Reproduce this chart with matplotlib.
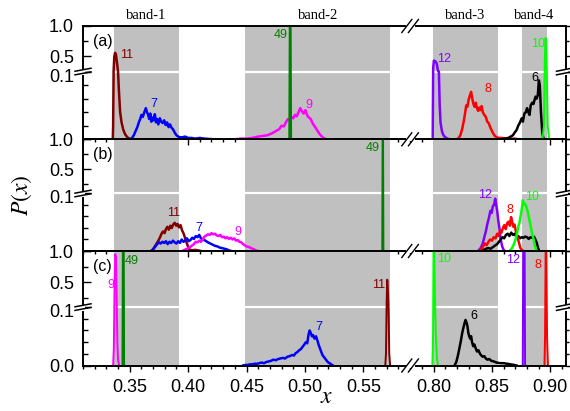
import numpy as np
import matplotlib
matplotlib.use('Agg')
import matplotlib.pyplot as plt
from matplotlib.lines import Line2D
from matplotlib.transforms import ScaledTranslation

plt.rcParams['font.family'] = ['Liberation Sans', 'DejaVu Sans']
plt.rcParams['mathtext.fontset'] = 'stix'

W, H = 570, 411

# broken x axis: left part, gap, right part
X_LO, X_GAP0, X_GAP1, X_HI = 0.31, 0.59, 0.78, 0.913

band_lo = [0.3365, 0.449, 0.7995, 0.876]
band_hi = [0.392, 0.573, 0.855, 0.897]
band_names = ['band-1', 'band-2', 'band-3', 'band-4']

colors = {'11': '#800000', '7': '#0000ff', '9': '#ff00ff', '49': '#008000',
          '12': '#8000ff', '8': '#ff0000', '6': '#000000', '10': '#00ff00'}

# ---------------- panel (a) ----------------
a11_x = [0.3355, 0.3358, 0.3362, 0.3368, 0.3375, 0.3383, 0.3392, 0.3400, 0.3408, 0.3418,
         0.3430, 0.3445, 0.3462, 0.3480, 0.3505]
a11_y = [0.0, 0.02, 0.20, 0.50, 0.56, 0.52, 0.38, 0.15, 0.07, 0.04,
         0.025, 0.014, 0.007, 0.003, 0.0]
a7_x = [0.3505, 0.3520, 0.3535, 0.3550, 0.3565, 0.3580, 0.3590, 0.3600, 0.3612, 0.3625,
        0.3638, 0.3648, 0.3658, 0.3667, 0.3676, 0.3685, 0.3695, 0.3705, 0.3715, 0.3725,
        0.3735, 0.3745, 0.3758, 0.3770, 0.3782, 0.3795, 0.3808, 0.3820, 0.3833, 0.3845,
        0.3858, 0.3870, 0.3885, 0.3900, 0.3915, 0.3930, 0.3950, 0.3975, 0.4000, 0.4030,
        0.4060, 0.4100, 0.4140, 0.4180, 0.4230]
a7_y = [0.0, 0.002, 0.006, 0.012, 0.018, 0.026, 0.030, 0.036, 0.033, 0.040,
        0.046, 0.040, 0.036, 0.030, 0.038, 0.026, 0.032, 0.028, 0.037, 0.025,
        0.030, 0.022, 0.031, 0.026, 0.024, 0.028, 0.021, 0.025, 0.018, 0.022,
        0.017, 0.015, 0.010, 0.006, 0.004, 0.003, 0.003, 0.004, 0.002, 0.002,
        0.001, 0.002, 0.001, 0.0005, 0.0]
a9_x = [0.4400, 0.4450, 0.4500, 0.4550, 0.4600, 0.4640, 0.4680, 0.4720, 0.4750, 0.4780,
        0.4800, 0.4820, 0.4840, 0.4855, 0.4870, 0.4885, 0.4900, 0.4915, 0.4930, 0.4945,
        0.4960, 0.4975, 0.4990, 0.5005, 0.5020, 0.5035, 0.5050, 0.5065, 0.5080, 0.5095,
        0.5110, 0.5125, 0.5140, 0.5160, 0.5180]
a9_y = [0.0, 0.001, 0.001, 0.002, 0.004, 0.005, 0.006, 0.009, 0.012, 0.015,
        0.020, 0.019, 0.026, 0.030, 0.028, 0.033, 0.031, 0.036, 0.034, 0.040,
        0.046, 0.041, 0.038, 0.043, 0.035, 0.032, 0.030, 0.024, 0.020, 0.016,
        0.012, 0.008, 0.005, 0.002, 0.0]
a49_x = [0.4866, 0.4870, 0.4878, 0.4882]
a49_y = [0.0, 1.0, 1.0, 0.0]
a12_x = [0.7993, 0.7997, 0.8003, 0.8015, 0.8028, 0.8038, 0.8046, 0.8053, 0.8060, 0.8072,
         0.8085, 0.8100, 0.8120, 0.8140]
a12_y = [0.0, 0.30, 0.43, 0.42, 0.38, 0.26, 0.10, 0.05, 0.025, 0.012,
         0.006, 0.003, 0.001, 0.0]
a8_x = [0.8200, 0.8215, 0.8230, 0.8245, 0.8258, 0.8270, 0.8280, 0.8290, 0.8300, 0.8310,
        0.8322, 0.8332, 0.8342, 0.8352, 0.8362, 0.8372, 0.8382, 0.8392, 0.8402, 0.8412,
        0.8422, 0.8435, 0.8448, 0.8460, 0.8472, 0.8485, 0.8498, 0.8510, 0.8525, 0.8540,
        0.8560, 0.8590, 0.8620, 0.8660, 0.8700, 0.8720]
a8_y = [0.0, 0.002, 0.006, 0.015, 0.026, 0.038, 0.050, 0.048, 0.058, 0.064,
        0.070, 0.060, 0.052, 0.048, 0.054, 0.046, 0.042, 0.047, 0.043, 0.049,
        0.040, 0.036, 0.033, 0.026, 0.024, 0.018, 0.013, 0.009, 0.005, 0.003,
        0.002, 0.002, 0.001, 0.001, 0.001, 0.0]
a6_x = [0.8580, 0.8610, 0.8640, 0.8660, 0.8680, 0.8695, 0.8712, 0.8725, 0.8738, 0.8755,
        0.8765, 0.8778, 0.8790, 0.8801, 0.8812, 0.8822, 0.8832, 0.8845, 0.8855, 0.8865,
        0.8874, 0.8883, 0.8893, 0.8902, 0.8910, 0.8920, 0.8931, 0.8940, 0.8950]
a6_y = [0.0, 0.001, 0.002, 0.004, 0.006, 0.010, 0.014, 0.020, 0.024, 0.031,
        0.026, 0.038, 0.040, 0.046, 0.040, 0.036, 0.050, 0.054, 0.052, 0.058,
        0.063, 0.060, 0.065, 0.087, 0.080, 0.040, 0.010, 0.002, 0.0]
a10_x = [0.8915, 0.8935, 0.8945, 0.8952, 0.8958, 0.8964, 0.8970, 0.8978, 0.8990]
a10_y = [0.0, 0.003, 0.02, 0.35, 0.80, 0.78, 0.25, 0.02, 0.0]

# ---------------- panel (b) ----------------
b49_x = [0.5662, 0.5665, 0.5669, 0.5672]
b49_y = [0.0, 1.0, 1.0, 0.0]
b11_x = [0.3680, 0.3700, 0.3715, 0.3730, 0.3745, 0.3760, 0.3772, 0.3785, 0.3798, 0.3810,
         0.3822, 0.3835, 0.3848, 0.3860, 0.3872, 0.3885, 0.3898, 0.3910, 0.3922, 0.3935,
         0.3948, 0.3962, 0.3978, 0.3995, 0.4010, 0.4030, 0.4060, 0.4090, 0.4110]
b11_y = [0.0, 0.003, 0.008, 0.013, 0.018, 0.024, 0.030, 0.034, 0.031, 0.038,
         0.042, 0.037, 0.044, 0.040, 0.046, 0.049, 0.044, 0.047, 0.041, 0.045,
         0.036, 0.030, 0.020, 0.010, 0.003, 0.001, 0.002, 0.001, 0.0]
b7_x = [0.3690, 0.3705, 0.3720, 0.3735, 0.3750, 0.3765, 0.3780, 0.3795, 0.3810, 0.3825,
        0.3840, 0.3855, 0.3870, 0.3885, 0.3900, 0.3915, 0.3930, 0.3945, 0.3960, 0.3975,
        0.3990, 0.4005, 0.4020, 0.4035, 0.4050, 0.4065, 0.4080, 0.4095, 0.4110, 0.4125,
        0.4140, 0.4155, 0.4170, 0.4190, 0.4210, 0.4230, 0.4250, 0.4270, 0.4290, 0.4310,
        0.4330, 0.4350, 0.4370]
b7_y = [0.0, 0.004, 0.008, 0.012, 0.015, 0.013, 0.016, 0.014, 0.017, 0.012,
        0.016, 0.014, 0.018, 0.015, 0.013, 0.017, 0.014, 0.020, 0.016, 0.018,
        0.022, 0.017, 0.019, 0.023, 0.021, 0.026, 0.024, 0.028, 0.022, 0.020,
        0.019, 0.017, 0.015, 0.013, 0.011, 0.009, 0.008, 0.006, 0.005, 0.004,
        0.003, 0.001, 0.0]
b9_x = [0.3950, 0.3970, 0.3990, 0.4010, 0.4030, 0.4050, 0.4065, 0.4080, 0.4095, 0.4110,
        0.4125, 0.4140, 0.4155, 0.4170, 0.4185, 0.4200, 0.4215, 0.4230, 0.4245, 0.4260,
        0.4275, 0.4290, 0.4305, 0.4320, 0.4335, 0.4350, 0.4365, 0.4380, 0.4395, 0.4410,
        0.4425, 0.4440, 0.4455, 0.4470, 0.4485, 0.4500, 0.4520, 0.4540, 0.4560, 0.4580,
        0.4600]
b9_y = [0.0, 0.002, 0.004, 0.006, 0.009, 0.012, 0.016, 0.015, 0.018, 0.016,
        0.020, 0.025, 0.027, 0.029, 0.028, 0.031, 0.029, 0.030, 0.027, 0.026,
        0.028, 0.024, 0.025, 0.022, 0.024, 0.021, 0.023, 0.020, 0.022, 0.018,
        0.019, 0.016, 0.015, 0.012, 0.010, 0.008, 0.007, 0.005, 0.003, 0.001,
        0.0]
b12_x = [0.8380, 0.8400, 0.8420, 0.8435, 0.8450, 0.8462, 0.8475, 0.8487, 0.8498, 0.8508,
         0.8518, 0.8528, 0.8535, 0.8545, 0.8555, 0.8565, 0.8575, 0.8588, 0.8600, 0.8610]
b12_y = [0.0, 0.004, 0.012, 0.024, 0.036, 0.048, 0.058, 0.070, 0.066, 0.078,
         0.080, 0.091, 0.082, 0.070, 0.052, 0.038, 0.020, 0.008, 0.002, 0.0]
b8_x = [0.8395, 0.8410, 0.8425, 0.8440, 0.8455, 0.8470, 0.8485, 0.8500, 0.8515, 0.8530,
        0.8545, 0.8558, 0.8570, 0.8582, 0.8594, 0.8606, 0.8618, 0.8630, 0.8642, 0.8654,
        0.8664, 0.8674, 0.8684, 0.8694, 0.8705, 0.8718, 0.8730, 0.8742, 0.8755, 0.8770]
b8_y = [0.0, 0.004, 0.008, 0.013, 0.010, 0.016, 0.020, 0.018, 0.024, 0.022,
        0.030, 0.026, 0.036, 0.032, 0.040, 0.045, 0.038, 0.048, 0.051, 0.044,
        0.059, 0.050, 0.042, 0.046, 0.034, 0.024, 0.016, 0.006, 0.002, 0.0]
b6_x = [0.8410, 0.8430, 0.8450, 0.8470, 0.8490, 0.8510, 0.8530, 0.8545, 0.8560, 0.8575,
        0.8590, 0.8605, 0.8620, 0.8635, 0.8650, 0.8665, 0.8680, 0.8695, 0.8710, 0.8725,
        0.8740, 0.8755, 0.8770, 0.8785, 0.8800, 0.8815, 0.8830, 0.8845, 0.8860, 0.8872,
        0.8884, 0.8895, 0.8905]
b6_y = [0.0, 0.002, 0.004, 0.005, 0.004, 0.007, 0.010, 0.012, 0.016, 0.020,
        0.024, 0.022, 0.028, 0.030, 0.026, 0.032, 0.028, 0.030, 0.024, 0.026,
        0.022, 0.024, 0.023, 0.025, 0.024, 0.021, 0.024, 0.023, 0.025, 0.020,
        0.014, 0.005, 0.0]
b10_x = [0.8650, 0.8665, 0.8680, 0.8695, 0.8705, 0.8715, 0.8725, 0.8735, 0.8745, 0.8755,
         0.8765, 0.8775, 0.8785, 0.8795, 0.8805, 0.8815, 0.8825, 0.8835, 0.8845, 0.8855,
         0.8865, 0.8875, 0.8885]
b10_y = [0.0, 0.003, 0.008, 0.016, 0.022, 0.030, 0.042, 0.048, 0.060, 0.072,
         0.088, 0.080, 0.082, 0.077, 0.070, 0.060, 0.050, 0.040, 0.030, 0.022,
         0.012, 0.004, 0.0]

# ---------------- panel (c) ----------------
c9_x = [0.3358, 0.3364, 0.3370, 0.3376, 0.3382, 0.3388, 0.3394, 0.3400, 0.3410]
c9_y = [0.0, 0.03, 0.40, 0.95, 0.90, 0.30, 0.04, 0.01, 0.0]
c49_x = [0.3438, 0.3441, 0.3449, 0.3452]
c49_y = [0.0, 1.0, 1.0, 0.0]
c7_x = [0.4470, 0.4490, 0.4510, 0.4530, 0.4550, 0.4570, 0.4590, 0.4610, 0.4630, 0.4650,
        0.4670, 0.4690, 0.4710, 0.4730, 0.4750, 0.4770, 0.4790, 0.4810, 0.4830, 0.4850,
        0.4870, 0.4890, 0.4905, 0.4920, 0.4935, 0.4950, 0.4965, 0.4980, 0.4995, 0.5008,
        0.5020, 0.5030, 0.5040, 0.5050, 0.5060, 0.5070, 0.5082, 0.5095, 0.5108, 0.5120,
        0.5135, 0.5150, 0.5165, 0.5180, 0.5195, 0.5210, 0.5225, 0.5240]
c7_y = [0.0, 0.001, 0.001, 0.002, 0.002, 0.003, 0.003, 0.004, 0.005, 0.004,
        0.006, 0.007, 0.008, 0.010, 0.009, 0.011, 0.012, 0.013, 0.012, 0.015,
        0.016, 0.018, 0.017, 0.021, 0.023, 0.026, 0.028, 0.032, 0.036, 0.040,
        0.038, 0.052, 0.060, 0.056, 0.050, 0.052, 0.046, 0.050, 0.042, 0.034,
        0.026, 0.018, 0.014, 0.010, 0.006, 0.004, 0.002, 0.0]
c11_x = [0.5688, 0.5694, 0.5700, 0.5705, 0.5710, 0.5716, 0.5722, 0.5730]
c11_y = [0.0, 0.02, 0.20, 0.54, 0.40, 0.10, 0.02, 0.0]
c10_x = [0.7990, 0.7996, 0.8000, 0.8006, 0.8012, 0.8020, 0.8030, 0.8040]
c10_y = [0.0, 0.05, 1.0, 1.0, 0.30, 0.05, 0.01, 0.0]
c6_x = [0.8180, 0.8195, 0.8210, 0.8222, 0.8234, 0.8245, 0.8255, 0.8265, 0.8274, 0.8282,
        0.8290, 0.8298, 0.8306, 0.8314, 0.8322, 0.8330, 0.8340, 0.8350, 0.8360, 0.8372,
        0.8385, 0.8398, 0.8410, 0.8422, 0.8435, 0.8448, 0.8462, 0.8478, 0.8495, 0.8515,
        0.8540, 0.8570, 0.8600, 0.8630, 0.8660, 0.8690, 0.8710]
c6_y = [0.0, 0.006, 0.018, 0.030, 0.042, 0.055, 0.064, 0.072, 0.078, 0.074,
        0.068, 0.056, 0.050, 0.046, 0.050, 0.040, 0.033, 0.036, 0.030, 0.024,
        0.026, 0.020, 0.017, 0.015, 0.016, 0.012, 0.010, 0.011, 0.008, 0.007,
        0.005, 0.004, 0.004, 0.003, 0.002, 0.001, 0.0]
c12_x = [0.8764, 0.8768, 0.8780, 0.8784]
c12_y = [0.0, 1.0, 1.0, 0.0]
c8_x = [0.8950, 0.8955, 0.8960, 0.8966, 0.8972, 0.8980]
c8_y = [0.0, 0.05, 1.0, 1.0, 0.05, 0.0]

# label name -> (x, y) of the coloured number next to each curve
a_labels = {'11': (0.3473, 0.53), '7': (0.3707, 0.052), '49': (0.4792, 0.85), '9': (0.5034, 0.050),
            '12': (0.8091, 0.45), '8': (0.8465, 0.074), '6': (0.8866, 0.090), '10': (0.8891, 0.70)}
b_labels = {'49': (0.5581, 0.86), '11': (0.3872, 0.066), '7': (0.4094, 0.040), '9': (0.4422, 0.033),
            '12': (0.8442, 0.097), '8': (0.8656, 0.071), '10': (0.8846, 0.094)}
c_labels = {'49': (0.3516, 0.84), '9': (0.3337, 0.46), '7': (0.5120, 0.066), '11': (0.5630, 0.45),
            '10': (0.8094, 0.87), '6': (0.8343, 0.084), '12': (0.8684, 0.85), '8': (0.8897, 0.78)}

rows = [
    dict(tag='(a)', hi_bot=0.25, frac=0.598, labels=a_labels,
         curves=[('11', a11_x, a11_y), ('7', a7_x, a7_y), ('9', a9_x, a9_y), ('49', a49_x, a49_y),
                 ('12', a12_x, a12_y), ('8', a8_x, a8_y), ('6', a6_x, a6_y), ('10', a10_x, a10_y)]),
    dict(tag='(b)', hi_bot=0.1, frac=0.515, labels=b_labels,
         curves=[('11', b11_x, b11_y), ('7', b7_x, b7_y), ('9', b9_x, b9_y), ('49', b49_x, b49_y),
                 ('12', b12_x, b12_y), ('6', b6_x, b6_y), ('8', b8_x, b8_y), ('10', b10_x, b10_y)]),
    dict(tag='(c)', hi_bot=0.1, frac=0.51, labels=c_labels,
         curves=[('9', c9_x, c9_y), ('49', c49_x, c49_y), ('7', c7_x, c7_y), ('11', c11_x, c11_y),
                 ('10', c10_x, c10_y), ('6', c6_x, c6_y), ('12', c12_x, c12_y), ('8', c8_x, c8_y)]),
]


def yscale_funcs(hi_bot, frac):
    if hi_bot > 0.1:
        xp = [-10, 0, 0.1, hi_bot, 1.0, 10]
        fp = [-100 * frac, 0, frac, frac + 1e-4, 1, 1 + 9 * (1 - frac) / (1 - hi_bot)]
    else:
        xp = [-10, 0, 0.1, 1.0, 10]
        fp = [-100 * frac, 0, frac, 1, 1 + 9 * (1 - frac) / 0.9]
    return (lambda v: np.interp(v, xp, fp)), (lambda u: np.interp(u, fp, xp))


x_xp = [-10, X_GAP0, X_GAP1, 10]
x_fp = [-10, X_GAP0, X_GAP0 + 1e-4, 10 - (X_GAP1 - X_GAP0) + 1e-4]
xfwd = lambda v: np.interp(v, x_xp, x_fp)
xinv = lambda u: np.interp(u, x_fp, x_xp)

x_major = [0.35, 0.40, 0.45, 0.50, 0.55, 0.80, 0.85, 0.90]
x_minor = [round(v, 2) for v in np.arange(0.31, 0.915, 0.01)
           if (v < X_GAP0 or v > X_GAP1) and round(v, 2) not in x_major]
y_major = [0.0, 0.1, 0.5, 1.0]
y_minor = [0.02, 0.04, 0.06, 0.08, 0.25, 0.75]

fig = plt.figure(figsize=(W / 100, H / 100), dpi=100)

L_PX, R_PX = 83, 565.5
row_edges = [26, 139.3, 251, 365.5]


def fig_seg(x0, y0, x1, y1, **kw):
    fig.add_artist(Line2D([x0 / W, x1 / W], [1 - y0 / H, 1 - y1 / H],
                          transform=fig.transFigure, zorder=20, **kw))


for i, r in enumerate(rows):
    top, bot = row_edges[i], row_edges[i + 1]
    ax = fig.add_axes([L_PX / W, 1 - bot / H, (R_PX - L_PX) / W, (bot - top) / H])
    ax.set_facecolor('none')
    ax.set_xscale('function', functions=(xfwd, xinv))
    yf, yi = yscale_funcs(r['hi_bot'], r['frac'])
    ax.set_yscale('function', functions=(yf, yi))
    ax.set_xlim(X_LO, X_HI)
    ax.set_ylim(0, 1.0)

    for lo, hi in zip(band_lo, band_hi):
        ax.axvspan(lo, hi, color='#c0c0c0', lw=0, zorder=0)
    ax.axhline(0.1, color='white', lw=1.6, zorder=1)

    for name, xs, ys in r['curves']:
        spike = len(xs) < 10
        ax.plot(xs, ys, color=colors[name], lw=1.4 if spike else 1.8, zorder=3)
    for name, (lx, ly) in r['labels'].items():
        ax.text(lx, ly, name, color=colors[name], fontsize=9, ha='center', va='center', zorder=4)
    ax.text(0.041, 0.865, r['tag'], transform=ax.transAxes, fontsize=11.5, ha='center', va='center')

    for s in ax.spines.values():
        s.set_linewidth(1.2)
    ax.set_xticks(x_major)
    ax.set_xticks(x_minor, minor=True)
    ax.set_xticklabels([f'{v:.2f}' for v in x_major] if i == 2 else [])
    ax.tick_params(axis='x', which='both', direction='out', top=False, bottom=True,
                   labelsize=13, pad=5.5, width=1.0)
    ax.tick_params(axis='x', which='major', length=4)
    ax.tick_params(axis='x', which='minor', length=2.5)

    ax.set_yticks(y_major)
    ax.set_yticks(y_minor, minor=True)
    ax.set_yticklabels(['0.0' if i == 2 else '', '0.1', '0.5', '1.0'])
    ax.tick_params(axis='y', which='both', direction='in', left=True, right=False,
                   labelsize=13, pad=6.5, width=1.0)
    ax.tick_params(axis='y', which='major', length=6)
    ax.tick_params(axis='y', which='minor', length=3.5)
    # the "0.1" label sits a little below the break, as in the original
    lab = ax.yaxis.get_major_ticks()[1].label1
    lab.set_transform(lab.get_transform() + ScaledTranslation(0, -0.035, fig.dpi_scale_trans))

    tw = ax.twinx()
    tw.set_yscale('function', functions=(yf, yi))
    tw.set_ylim(0, 1.0)
    tw.set_yticks(y_major)
    tw.set_yticks(y_minor, minor=True)
    tw.tick_params(axis='y', which='both', direction='out', right=True, labelright=False, width=1.0)
    tw.tick_params(axis='y', which='major', length=4)
    tw.tick_params(axis='y', which='minor', length=2.5)
    for s in tw.spines.values():
        s.set_linewidth(1.2)

    # "=" break marks on the y axis (left and right)
    yb = top + (1 - r['frac']) * (bot - top)
    for xc, x0, x1 in ((L_PX, L_PX - 8, L_PX + 8), (R_PX, R_PX - 9, R_PX + 6)):
        fig_seg(xc, yb - 1.6, xc, yb + 1.6, color='white', lw=2.2)
        for dy in (-1.8, 1.8):
            fig_seg(x0, yb + dy + 1.5, x1, yb + dy - 1.5, color='black', lw=1.1)

    if i == 0:
        for lo, hi, nm in zip(band_lo, band_hi, band_names):
            ax.text((lo + hi) / 2, 1.09, nm, transform=ax.get_xaxis_transform(),
                    ha='center', va='center', fontsize=10.5, family='Liberation Serif')

# "//" break marks on the x axis at every horizontal spine
xg = L_PX + (X_GAP0 - X_LO) / ((X_GAP0 - X_LO) + (X_HI - X_GAP1)) * (R_PX - L_PX)
for yy in row_edges:
    fig_seg(xg - 3.3, yy, xg + 3.3, yy, color='white', lw=2.2)
    for dx in (-3.3, 3.3):
        fig_seg(xg + dx - 5, yy + 6.5, xg + dx + 5, yy - 6.5, color='black', lw=1.0)

fig.text(22 / W, 1 - 195 / H, '$P(x)$', rotation=90, ha='center', va='center', fontsize=17)
fig.text(327 / W, 1 - 397 / H, '$x$', ha='center', va='center', fontsize=17)

fig.savefig('out.png', dpi=100)
